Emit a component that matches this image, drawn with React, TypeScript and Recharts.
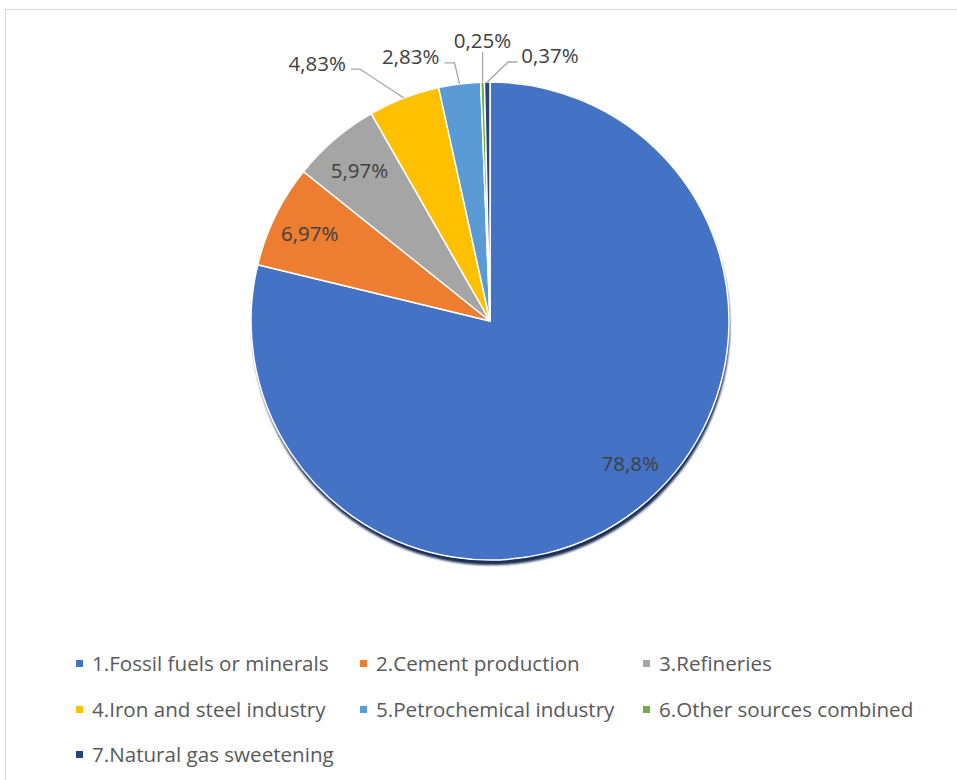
import { PieChart, Pie, Cell } from 'recharts';

// emission sources, share in %
const CATEGORIES = [
  '1.Fossil fuels or minerals',
  '2.Cement production',
  '3.Refineries',
  '4.Iron and steel industry',
  '5.Petrochemical industry',
  '6.Other sources combined',
  '7.Natural gas sweetening',
];
const SHARES = [78.8, 6.97, 5.97, 4.83, 2.83, 0.25, 0.37];
const COLORS = ['#4472C4', '#ED7D31', '#A5A5A5', '#FFC000', '#5B9BD5', '#70AD47', '#264478'];

const data = CATEGORIES.map((name, i) => ({ name, value: SHARES[i] }));

const LABEL_FONT = '"Open Sans", "Liberation Sans", sans-serif';
const LABEL_COLOR = '#404040';
const LEADER = '#a6a6a6';

// how each data label sits: inside at k*radius (+nudge), or outside with a leader line
type Place =
  | { mode: 'in'; k: number; dx: number; dy: number }
  | { mode: 'out'; ex: number; ey: number; run: number; anchor: 'start' | 'middle' | 'end'; ty: number };

const PLACES: Place[] = [
  { mode: 'in', k: 0.8, dx: 22, dy: -8 },
  { mode: 'in', k: 0.84, dx: 0, dy: 1 },
  { mode: 'in', k: 0.84, dx: 0, dy: 2 },
  { mode: 'out', ex: -44, ey: -29, run: -9, anchor: 'end', ty: -6 },
  { mode: 'out', ex: -5, ey: -21, run: -10, anchor: 'end', ty: -7 },
  { mode: 'out', ex: 0, ey: -30, run: 0, anchor: 'middle', ty: -12 },
  { mode: 'out', ex: 21, ey: -20, run: 9, anchor: 'start', ty: -7 },
];

const fmt = (v: number) => `${String(v).replace('.', ',')}%`;

const RAD = Math.PI / 180;

function renderLabel(props: any) {
  const { cx, cy, midAngle, outerRadius, index, value } = props;
  const p = PLACES[index];
  const cos = Math.cos(-midAngle * RAD);
  const sin = Math.sin(-midAngle * RAD);
  const textStyle = { fontFamily: LABEL_FONT, fontSize: 20.5, fill: LABEL_COLOR };

  if (p.mode === 'in') {
    const x = cx + outerRadius * p.k * cos + p.dx;
    const y = cy + outerRadius * p.k * sin + p.dy;
    return (
      <text x={x} y={y} textAnchor="middle" dominantBaseline="central" style={textStyle}>
        {fmt(value)}
      </text>
    );
  }

  const x0 = cx + outerRadius * cos;
  const y0 = cy + outerRadius * sin;
  const x1 = x0 + p.ex;
  const y1 = y0 + p.ey;
  const x2 = x1 + p.run;
  const gap = p.anchor === 'end' ? -5 : p.anchor === 'start' ? 4 : 0;
  return (
    <g>
      <polyline
        points={`${x0},${y0} ${x1},${y1} ${x2},${y1}`}
        fill="none"
        stroke={LEADER}
        strokeWidth={1.3}
      />
      <text
        x={x2 + gap}
        y={y1 + p.ty}
        textAnchor={p.anchor}
        dominantBaseline="central"
        style={textStyle}
      >
        {fmt(value)}
      </text>
    </g>
  );
}

const LEGEND_ROWS = [
  [0, 1, 2],
  [3, 4, 5],
  [6],
];
const LEGEND_COLS = [76, 360, 643];
const LEGEND_TOPS = [663, 709, 754];

function Legend() {
  return (
    <>
      {LEGEND_ROWS.map((row, r) =>
        row.map((idx, c) => (
          <div
            key={idx}
            style={{
              position: 'absolute',
              left: LEGEND_COLS[c],
              top: LEGEND_TOPS[r],
              transform: 'translateY(-50%)',
              display: 'flex',
              alignItems: 'center',
              whiteSpace: 'nowrap',
              fontFamily: '"Open Sans", sans-serif',
              fontSize: 20.6,
              color: '#595959',
            }}
          >
            <span
              style={{
                display: 'inline-block',
                width: 7,
                height: 7,
                background: COLORS[idx],
                marginRight: 9,
              }}
            />
            {CATEGORIES[idx]}
          </div>
        )),
      )}
    </>
  );
}

export default function App() {
  return (
    <div
      style={{
        position: 'fixed',
        left: 0,
        top: 0,
        width: 957,
        height: 780,
        overflow: 'hidden',
        background: '#fff',
      }}
    >
      <div
        style={{
          position: 'absolute',
          left: 5,
          top: 9,
          width: 1000,
          height: 1000,
          border: '1px solid #d9d9d9',
        }}
      />
      <div style={{ position: 'absolute', left: 0, top: 0 }}>
        <PieChart width={957} height={640} margin={{ top: 0, right: 0, bottom: 0, left: 0 }}>
          <defs>
            <filter id="pieShadow" x="-10%" y="-10%" width="120%" height="120%">
              <feGaussianBlur stdDeviation={1.3} />
            </filter>
          </defs>
          {/* soft dark shadow under the pie */}
          <Pie
            data={data}
            dataKey="value"
            cx={491}
            cy={326}
            outerRadius={239}
            startAngle={90}
            endAngle={-270}
            stroke="none"
            label={false}
            labelLine={false}
            legendType="none"
            isAnimationActive={false}
          >
            {data.map((d) => (
              <Cell key={d.name} fill="#1A2F55" filter="url(#pieShadow)" />
            ))}
          </Pie>
          <Pie
            data={data}
            dataKey="value"
            cx={490}
            cy={321}
            outerRadius={239}
            startAngle={90}
            endAngle={-270}
            stroke="#ffffff"
            strokeWidth={1.5}
            label={renderLabel}
            labelLine={false}
            isAnimationActive={false}
          >
            {data.map((d, i) => (
              <Cell key={d.name} fill={COLORS[i]} />
            ))}
          </Pie>
        </PieChart>
      </div>
      <Legend />
    </div>
  );
}
